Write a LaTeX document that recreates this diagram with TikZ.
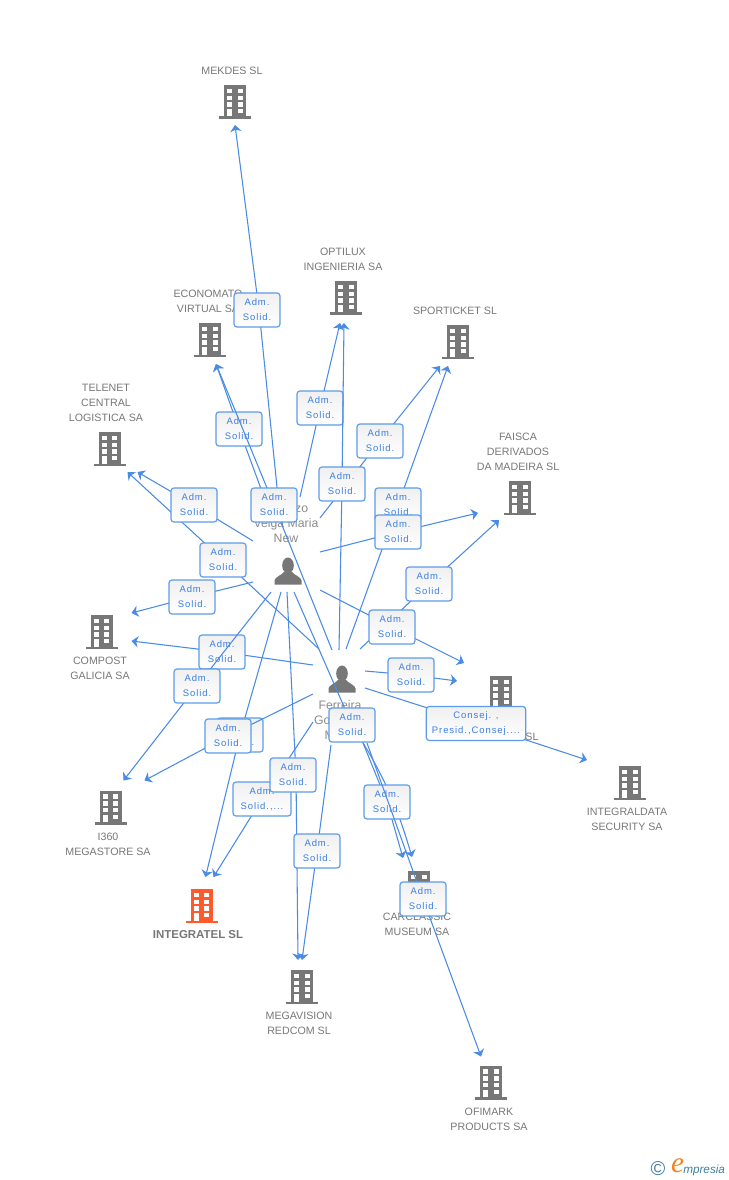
\documentclass[tikz,border=0pt]{standalone}
\usepackage{fontspec}
\setmainfont{Liberation Sans}
\newfontfamily\boxfont[LetterSpace=10]{Liberation Sans}
\newfontfamily\logofont{Liberation Serif}
\usetikzlibrary{arrows.meta}

\definecolor{bldgray}{HTML}{777777}
\definecolor{bldorange}{HTML}{FF5A2C}
\definecolor{linkblue}{HTML}{4A8BE5}
\definecolor{boxblue}{HTML}{5C9BEA}
\definecolor{boxtext}{HTML}{3B7FE3}
\definecolor{logoteal}{HTML}{3F7F9F}
\definecolor{logoorange}{HTML}{F58220}

\tikzset{
  building/.pic={
    \fill[pic actions] (-11,-17) rectangle (11,14.5);
    \fill[pic actions] (-16,14.5) rectangle (16,17);
    \foreach \wy in {-13.3,-6.3,0.3}{
      \fill[white] (-7.8,\wy) rectangle (-2.6,\wy+4.3);
      \fill[white] (2.6,\wy) rectangle (7.8,\wy+4.3);
    }
    \fill[white] (-7.8,7) rectangle (-2.6,14.5);
    \fill[white] (2.6,7) rectangle (7.8,11.3);
  },
  personicon/.pic={
    \fill[bldgray] (0,-5.5) ellipse [x radius=5.8, y radius=8];
    \fill[bldgray] (-13.5,13.5)--(-13.5,9.5) .. controls (-13,6) and (-7,4.5) .. (-4,1)--(4,1) .. controls (7,4.5) and (13,6) .. (13.5,9.5)--(13.5,13.5)--cycle;
  },
  firm/.style={inner sep=0pt, minimum width=24pt, minimum height=26pt},
  who/.style={inner sep=0pt, minimum width=20pt, minimum height=20pt},
  firmtxt/.style={inner sep=0pt, align=center, text=bldgray, font=\fontsize{8}{11.25}\selectfont},
  whotxt/.style={inner sep=0pt, align=center, text=bldgray!85, font=\fontsize{9.2}{11.25}\selectfont},
  link/.style={linkblue, line width=0.8pt, -{Stealth[length=5pt, width=8.5pt, inset=1.5pt]}},
  post/.style={draw=boxblue, line width=0.9pt, rounded corners=2.2pt, top color=black!6, bottom color=white,
    minimum width=34.5pt, minimum height=25.5pt, inner sep=0pt, align=center, text=boxtext,
    font=\boxfont\fontsize{7.1}{11.25}\selectfont},
}

\begin{document}
\begin{tikzpicture}[x=0.75pt, y=-0.75pt]

\useasboundingbox (0,0) rectangle (728,1180);

% firms
\node[firm] (mekdes) at (235,102) {};
\node[firm] (optilux) at (346,298) {};
\node[firm] (economato) at (210,340) {};
\node[firm] (sporticket) at (458,342) {};
\node[firm] (telenet) at (109.5,449) {};
\node[firm] (faisca) at (520,498) {};
\node[firm] (hiddensl) at (501,693) {};
\node[firm] (compost) at (101.5,632) {};
\node[firm] (megastore) at (110.5,807.5) {};
\node[firm] (integratel) at (201.5,906) {};
\node[firm] (megavision) at (302,987) {};
\node[firm] (carclassic) at (419,888) {};
\node[firm] (ofimark) at (491,1082.5) {};
\node[firm] (integraldata) at (630,783) {};

\foreach \firmname in {mekdes,optilux,economato,sporticket,telenet,faisca,hiddensl,compost,megastore,megavision,carclassic,ofimark,integraldata}
  \pic[fill=bldgray] at (\firmname) {building};
\pic[fill=bldorange] at (integratel) {building};

\node[firmtxt] (mekdestxt) at (232,71) {MEKDES SL};
\node[firmtxt] (optiluxtxt) at (343,259.5) {OPTILUX\\INGENIERIA SA};
\node[firmtxt] (economatotxt) at (208,301.5) {ECONOMATO\\VIRTUAL SA};
\node[firmtxt] (sporticketxt) at (455,311) {SPORTICKET SL};
\node[firmtxt] (telenettxt) at (106,403) {TELENET\\CENTRAL\\LOGISTICA SA};
\node[firmtxt] (faiscatxt) at (518,452) {FAISCA\\DERIVADOS\\DA MADEIRA SL};
\node[firmtxt] (hiddentxt) at (532,737) {SL};
\node[firmtxt] (composttxt) at (100,668.5) {COMPOST\\GALICIA SA};
\node[firmtxt] (megastoretxt) at (108,844.5) {I360\\MEGASTORE SA};
\node[firmtxt, font=\fontsize{8.6}{11.25}\selectfont\bfseries] (integrateltxt) at (198,935) {INTEGRATEL SL};
\node[firmtxt] (megavisiontxt) at (299,1023.5) {MEGAVISION\\REDCOM SL};
\node[firmtxt] (carclassictxt) at (417,924.5) {CARCLASSIC\\MUSEUM SA};
\node[firmtxt] (ofimarktxt) at (489,1119.5) {OFIMARK\\PRODUCTS SA};
\node[firmtxt] (integraldatatxt) at (627,819.5) {INTEGRALDATA\\SECURITY SA};

% people
\node[who] (P1) at (288,571) {};
\node[who] (P2) at (342,679) {};
\pic at (P1) {personicon};
\pic at (P2) {personicon};
\node[whotxt] (P1txt) at (286,523) {\phantom{Loren}zo\\Veiga Maria\\New};
\node[whotxt] (P2txt) at (340,720) {Ferreira\\Go\phantom{nzalez}\\M\phantom{aria}};

% links from the top, clockwise
\coordinate (c1) at (259,310);
\draw[link] ([shift={(-10,-74)}]P1.center)--(c1)--([shift={(0,23)}]mekdes.center);
\node[post] (post1) at ([xshift=-1.5pt]c1) {Adm.\\Solid.};

\coordinate (c2) at (239,429);
\draw[link] ([shift={(-24,-74)}]P1.center)--(c2)--([shift={(6,24)}]economato.center);
\node[post] (post2) at (c2) {Adm.\\Solid.};

\coordinate (c3) at (274,505);
\draw[link] ([shift={(-10,-29)}]P2.center)--(c3)--([shift={(6,24)}]economato.center);
\node[post] (post3) at (c3) {Adm.\\Solid.};

\coordinate (c4) at (320,408);
\draw[link] ([shift={(12,-74)}]P1.center)--(c4)--([shift={(-6,25)}]optilux.center);
\node[post] (post4) at (c4) {Adm.\\Solid.};

\coordinate (c6) at (380,441);
\draw[link] ([shift={(32,-53)}]P1.center)--(c6)--([shift={(-18,24)}]sporticket.center);
\node[post] (post6) at (c6) {Adm.\\Solid.};

\coordinate (c5) at (342,484);
\draw[link] ([shift={(-3,-29)}]P2.center)--(c5)--([shift={(-2,25)}]optilux.center);
\node[post] (post5) at (c5) {Adm.\\Solid.};

\coordinate (c7) at (398,505);
\draw[link] ([shift={(4,-30)}]P2.center)--(c7)--([shift={(-10,24)}]sporticket.center);
\node[post] (post7) at (c7) {Adm.\\Solid.};

\coordinate (c8) at (398,532);
\draw[link] ([shift={(32,-19)}]P1.center)--(c8)--([shift={(-42,15)}]faisca.center);
\node[post] (post8) at (c8) {Adm.\\Solid.};

\coordinate (c9) at (429,584);
\draw[link] ([shift={(18,-30)}]P2.center)--(c9)--([shift={(-21,22)}]faisca.center);
\node[post] (post9) at (c9) {Adm.\\Solid.};

\coordinate (c10) at (392,627);
\draw[link] ([shift={(32,19)}]P1.center)--(c10)--([shift={(-37,-30)}]hiddensl.center);
\node[post] (post10) at (c10) {Adm.\\Solid.};

\coordinate (c11) at (411,675);
\draw[link] ([shift={(23,-8)}]P2.center)--(c11)--([shift={(-44,-12)}]hiddensl.center);
\node[post] (post11) at (c11) {Adm.\\Solid.};

\coordinate (c12) at (476,723.5);
\draw[link] ([shift={(23,9)}]P2.center)--(c12)--([shift={(-43,-23)}]integraldata.center);
\node[post, minimum width=74.5pt] (post12) at (c12) {Consej. ,\\Presid.,Consej....};

% links going down
\coordinate (c13) at (352,725);
\draw[link] ([shift={(6,21)}]P1.center)--(c13) to[bend left=8] ([shift={(-7,-31)}]carclassic.center);

\coordinate (c14) at (387,802);
\draw[link] ([shift={(21,64)}]P2.center)--(c14)--([shift={(-16,-30)}]carclassic.center);
\node[post] (post14) at (c14) {Adm.\\Solid.};

\coordinate (c15) at (423,899);
\draw[link] ([shift={(25,64)}]P2.center)--(c15)--([shift={(-10,-26)}]ofimark.center);
\node[post] (post15) at (c15) {Adm.\\Solid.};

\node[post] (post13) at (c13) {Adm.\\Solid.};

\coordinate (c19) at (240,735);
\draw[link] ([shift={(-7,21)}]P1.center)--(c19)--([shift={(4,-29)}]integratel.center);
\node[post] (post19) at (c19) {Adm.\\Solid.};

\coordinate (c18) at (262,799);
\draw[link] ([shift={(-29,43)}]P2.center)--(c18)--([shift={(12,-29)}]integratel.center);
\node[post, minimum width=43.5pt] (post18) at (c18) {Adm.\\Solid.,...};

\coordinate (c16) at (296,775);
\draw[link] ([shift={(-1,21)}]P1.center)--(c16)--([shift={(-4,-27)}]megavision.center);
\node[post] (post16) at ([xshift=-2.25pt]c16) {Adm.\\Solid.};

\coordinate (c17) at (317,851);
\draw[link] ([shift={(-11,66)}]P2.center)--(c17)--([shift={(0,-27)}]megavision.center);
\node[post] (post17) at (c17) {Adm.\\Solid.};

\coordinate (c20) at (228,736);
\draw[link] ([shift={(-29,15)}]P2.center)--(c20)--([shift={(34,-27)}]megastore.center);
\node[post] (post20) at (c20) {Adm.\\Solid.};

\coordinate (c22) at (222,652);
\draw[link] ([shift={(-29,-14)}]P2.center)--(c22)--([shift={(30,9)}]compost.center);
\node[post] (post22) at (c22) {Adm.\\Solid.};

\coordinate (c21) at (197,686);
\draw[link] ([shift={(-17,21)}]P1.center)--(c21)--([shift={(13,-27)}]megastore.center);
\node[post] (post21) at (c21) {Adm.\\Solid.};

\coordinate (c23) at (192,597);
\draw[link] ([shift={(-35,11)}]P1.center)--(c23)--([shift={(30,-19)}]compost.center);
\node[post] (post23) at (c23) {Adm.\\Solid.};

\coordinate (c24) at (223,560);
\draw[link] ([shift={(-23,-30)}]P2.center)--(c24)--([shift={(18,23)}]telenet.center);
\node[post] (post24) at (c24) {Adm.\\Solid.};

\coordinate (c25) at (194,505);
\draw[link] ([shift={(-35,-30)}]P1.center)--(c25)--([shift={(28,23)}]telenet.center);
\node[post] (post25) at (c25) {Adm.\\Solid.};

% logo
\node[inner sep=0pt, text=logoteal, font=\fontsize{15}{15}\selectfont] (logoc) at (658,1169) {\textcopyright};
\node[inner sep=0pt, text=logoorange, font=\logofont\itshape\fontsize{22}{22}\selectfont] (logoe) at (677.5,1166) {e};
\node[inner sep=0pt, anchor=west, text=logoteal, font=\itshape\fontsize{8.8}{10}\selectfont] (logom) at (683,1170) {mpresia};

\end{tikzpicture}
\end{document}
